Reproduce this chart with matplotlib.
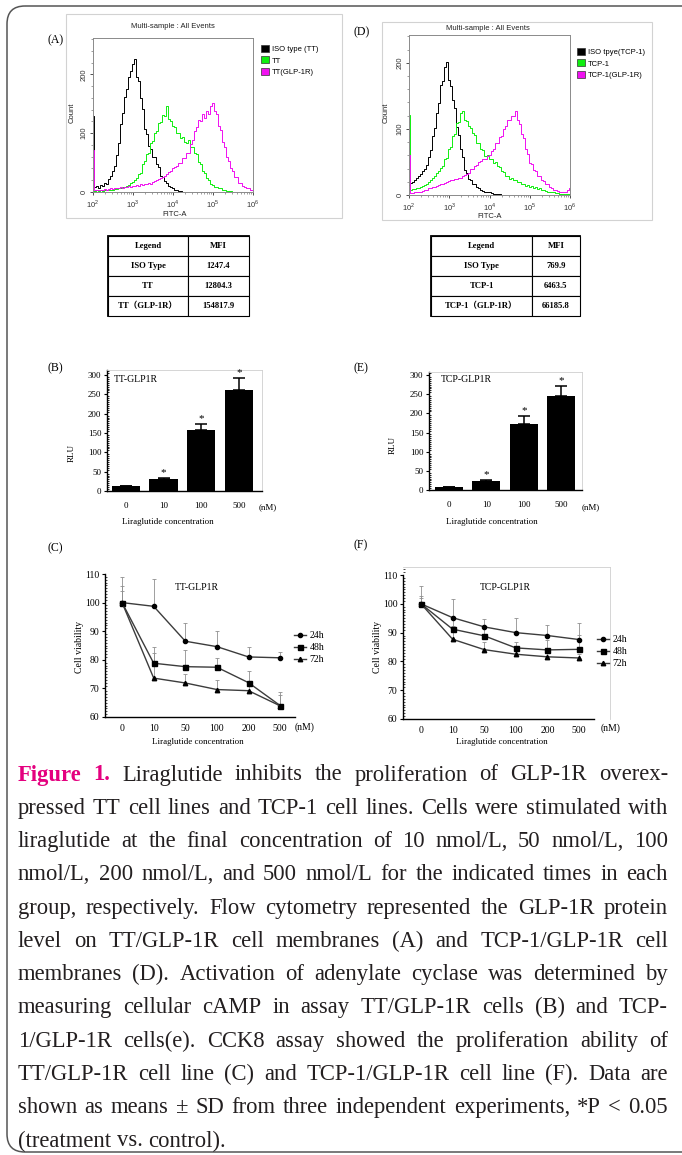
import matplotlib
matplotlib.use('Agg')
import matplotlib.pyplot as plt
from matplotlib.patches import FancyBboxPatch, Rectangle, Patch
from matplotlib.lines import Line2D
from matplotlib.ticker import MultipleLocator, LogLocator, NullFormatter
import numpy as np

W, H = 682, 1155
SERIF = 'Liberation Serif'
SANS = 'Liberation Sans'
plt.rcParams['mathtext.fontset'] = 'custom'
plt.rcParams['mathtext.rm'] = SANS

# ---------------- data ----------------
# flow cytometry histograms, counts read every 0.05 decade from 10^2 to 10^6
fitc_exp = np.linspace(2.0, 6.0, 81)

iso_tt = [130, 8, 10, 7, 12, 10, 16, 13, 22, 27, 36, 44, 63, 84, 116, 134, 162, 176, 196, 206,
          218, 226, 196, 188, 160, 142, 108, 98, 78, 74, 60, 60, 48, 42, 27, 25, 19, 15, 10, 8,
          6, 4, 3, 2, 1] + [0] * 36
tt = [2, 2, 3, 2, 3, 2, 4, 3, 4, 3, 4, 5, 5, 6, 6, 8, 9, 10, 12, 15,
      17, 21, 23, 30, 33, 47, 53, 64, 66, 83, 87, 101, 104, 118, 119, 131, 130, 146, 124, 120,
      112, 110, 101, 100, 92, 93, 85, 84, 88, 76, 76, 66, 64, 51, 47, 36, 33, 23, 21, 14,
      12, 9, 8, 7, 6, 4, 3, 2, 1, 1] + [0] * 11
tt_glp = [71, 3, 3, 4, 3, 4, 5, 4, 5, 6, 5, 6, 7, 6, 8, 7, 8, 9, 10, 9,
          11, 10, 12, 11, 13, 12, 14, 13, 15, 14, 17, 18, 20, 22, 23, 26, 28, 31, 34, 36,
          40, 43, 45, 50, 49, 57, 58, 66, 66, 82, 89, 104, 110, 122, 121, 132, 126, 138, 132, 146,
          152, 138, 133, 113, 105, 85, 77, 60, 53, 40, 36, 26, 25, 16, 15, 10, 9, 6, 7, 4, 3]

iso_tcp = [15, 18, 20, 22, 25, 28, 32, 36, 40, 46, 58, 68, 89, 101, 124, 139, 166, 172, 194, 201,
           174, 165, 144, 131, 103, 90, 69, 57, 38, 33, 24, 22, 17, 16, 12, 11, 8, 6, 5, 4,
           4, 3, 2, 2, 1, 1] + [0] * 35
tcp = [121, 8, 9, 9, 10, 11, 12, 13, 15, 17, 19, 22, 25, 28, 33, 36, 41, 44, 54, 56,
       69, 73, 89, 92, 109, 111, 124, 127, 114, 112, 104, 102, 94, 90, 79, 78, 69, 68, 59, 60,
       54, 55, 49, 50, 44, 43, 37, 35, 29, 28, 24, 25, 22, 22, 19, 20, 17, 17, 14, 15,
       12, 13, 10, 12, 9, 10, 8, 7, 6, 5, 5, 4, 4, 3, 3, 2, 2, 1, 1, 1, 1]
tcp_glp = [61, 3, 3, 4, 4, 5, 5, 6, 7, 8, 10, 11, 12, 12, 13, 15, 16, 17, 18, 20,
           21, 22, 23, 24, 24, 25, 25, 28, 30, 32, 34, 39, 40, 44, 45, 50, 51, 55, 55, 59,
           60, 67, 70, 78, 79, 88, 89, 100, 104, 113, 114, 120, 119, 127, 114, 108, 93, 86, 69, 62,
           49, 47, 38, 37, 28, 28, 22, 21, 17, 16, 12, 11, 8, 7, 6, 5, 5, 4, 5, 7, 10]

flow_labels_a = ['ISO type (TT)', 'TT', 'TT(GLP-1R)']
flow_labels_d = ['ISO tpye(TCP-1)', 'TCP-1', 'TCP-1(GLP-1R)']

mfi_labels_a = ['ISO Type', 'TT', 'TT（GLP-1R）']
mfi_values_a = ['1247.4', '12804.3', '154817.9']
mfi_labels_d = ['ISO Type', 'TCP-1', 'TCP-1（GLP-1R）']
mfi_values_d = ['769.9', '6463.5', '66185.8']

# cAMP (RLU)
camp_conc = ['0', '10', '100', '500']
camp_tt = [12, 30, 157, 262]
camp_tt_err = [1, 3, 16, 30]
camp_tcp = [7, 24, 173, 246]
camp_tcp_err = [1, 3, 20, 26]
camp_sig = [False, True, True, True]

# CCK8 cell viability
via_conc = ['0', '10', '50', '100', '200', '500']
via_times = ['24h', '48h', '72h']
via_tt_24 = [100, 98.7, 86.5, 84.6, 81.0, 80.7]
via_tt_48 = [100, 78.8, 77.6, 77.4, 72.0, 64.0]
via_tt_72 = [100, 73.6, 71.9, 69.6, 69.2, 63.9]
via_tt_24_err = [8.8, 9.4, 6.3, 5.3, 3.6, 1.9]
via_tt_48_err = [5.7, 5.8, 5.8, 3.1, 4.0, 4.8]
via_tt_72_err = [4.0, 8.9, 3.3, 3.3, 2.2, 3.9]
via_tcp_24 = [100, 95.2, 92.0, 90.0, 89.0, 87.6]
via_tcp_48 = [100, 91.2, 88.9, 84.7, 84.0, 84.2]
via_tcp_72 = [100, 87.7, 84.1, 82.5, 81.6, 81.2]
via_tcp_24_err = [6.2, 6.4, 2.9, 5.0, 3.7, 5.8]
via_tcp_48_err = [2.7, 3.5, 3.0, 2.2, 3.5, 5.0]
via_tcp_72_err = [2.0, 4.5, 2.8, 1.5, 1.2, 1.5]

caption_lines = [
    'Figure 1. Liraglutide inhibits the proliferation of GLP-1R overex-',
    'pressed TT cell lines and TCP-1 cell lines. Cells were stimulated with',
    'liraglutide at the final concentration of 10 nmol/L, 50 nmol/L, 100',
    'nmol/L, 200 nmol/L, and 500 nmol/L for the indicated times in each',
    'group, respectively. Flow cytometry represented the GLP-1R protein',
    'level on TT/GLP-1R cell membranes (A) and TCP-1/GLP-1R cell',
    'membranes (D). Activation of adenylate cyclase was determined by',
    'measuring cellular cAMP in assay TT/GLP-1R cells (B) and TCP-',
    '1/GLP-1R cells(e). CCK8 assay showed the proliferation ability of',
    'TT/GLP-1R cell line (C) and TCP-1/GLP-1R cell line (F). Data are',
    'shown as means ± SD from three independent experiments, *P < 0.05',
    '(treatment vs. control).',
]

# ---------------- figure ----------------
fig = plt.figure(figsize=(W / 100, H / 100), dpi=100)
bg = fig.add_axes([0, 0, 1, 1], zorder=-5)
bg.set_xlim(0, W)
bg.set_ylim(H, 0)
bg.axis('off')

# rounded outer frame (right side runs off the page)
bg.add_patch(FancyBboxPatch((7, 6), 720, 1146, boxstyle='round,pad=0,rounding_size=18',
                            fill=False, ec='#555555', lw=1.1))


def px_axes(l, t, r, b):
    ax = fig.add_axes([l / W, 1 - b / H, (r - l) / W, (b - t) / H])
    ax.patch.set_alpha(0)
    return ax


def label(x, y, s, **kw):
    kw.setdefault('family', SERIF)
    kw.setdefault('fontsize', 8.5)
    kw.setdefault('va', 'center')
    bg.text(x, y, s, **kw)


flow_colors = ['black', '#10EE10', '#F010F0']


def flow_panel(box, frame, ymax, curves, names, leg_xy, title_xy, xl_xy, yl_xy):
    bg.add_patch(Rectangle(frame[:2], frame[2] - frame[0], frame[3] - frame[1],
                           fill=False, ec='#d2d2d2', lw=0.8))
    ax = px_axes(*box)
    x = 10 ** fitc_exp
    for y, c in zip(curves, flow_colors):
        ax.plot(x, y, color=c, lw=0.7, drawstyle='steps-mid')
    ax.set_xscale('log')
    ax.set_xlim(1e2, 1e6)
    ax.set_ylim(0, ymax)
    ax.set_xticks([1e2, 1e3, 1e4, 1e5, 1e6])
    ax.set_xticklabels([r'$10^{%d}$' % k for k in range(2, 7)])
    ax.xaxis.set_minor_locator(LogLocator(subs=np.arange(2, 10)))
    ax.xaxis.set_minor_formatter(NullFormatter())
    ax.set_yticks([0, 100, 200])
    ax.yaxis.set_minor_locator(MultipleLocator(20))
    for lab in ax.get_yticklabels():
        lab.set_rotation(90)
        lab.set_va('center')
    ax.tick_params(labelsize=5.5, colors='#333333', width=0.6, length=2.5, pad=1.5)
    ax.tick_params(which='minor', length=1.3, width=0.5, colors='#777777')
    for lab in ax.get_xticklabels() + ax.get_yticklabels():
        lab.set_family(SANS)
    for s in ax.spines.values():
        s.set_color('#8a8a8a')
        s.set_linewidth(0.7)
    label(*title_xy, 'Multi-sample : All Events', family=SANS, fontsize=5.5, ha='center', color='#222222')
    label(*xl_xy, 'FITC-A', family=SANS, fontsize=5.5, ha='center', color='#222222')
    label(*yl_xy, 'Count', family=SANS, fontsize=5.5, ha='center', rotation=90, color='#222222')
    handles = [Patch(fc=c, ec='#333333', lw=0.5) for c in flow_colors]
    ax.legend(handles, names, loc='upper left', bbox_to_anchor=leg_xy, bbox_transform=bg.transData,
              frameon=False, prop={'family': SANS, 'size': 5.5},
              handlelength=1.1, handleheight=1.0, handletextpad=0.3, labelspacing=0.45,
              borderpad=0, borderaxespad=0)


flow_panel((93, 38, 253, 192), (66, 14, 342, 218), 262, [iso_tt, tt, tt_glp], flow_labels_a,
           (261, 45), (173, 26), (175, 214), (72, 113))
flow_panel((409, 35, 570, 195), (382, 22, 652, 220), 242, [iso_tcp, tcp, tcp_glp], flow_labels_d,
           (577, 48), (488, 28), (490, 217), (386, 113))
label(48, 40, '(A)')
label(353, 32, '(D)')


def mfi_table(box, names, values, col_w):
    ax = px_axes(*box)
    ax.axis('off')
    cells = [['Legend', 'MFI']] + [[n, v] for n, v in zip(names, values)]
    tb = ax.table(cellText=cells, cellLoc='center', bbox=[0, 0, 1, 1], colWidths=col_w)
    tb.auto_set_font_size(False)
    for cell in tb.get_celld().values():
        cell.set_linewidth(0.8)
        cell.set_edgecolor('black')
        txt = cell.get_text()
        txt.set_fontsize(6.2)
        txt.set_fontweight('bold')
        txt.set_family([SERIF, 'Noto Sans CJK SC'])
    l, t, r, b = box
    bg.add_patch(Rectangle((l, t), r - l, b - t, fill=False, ec='black', lw=1.3))


mfi_table((108, 236, 249, 316), mfi_labels_a, mfi_values_a, [80, 61])
mfi_table((431, 236, 580, 316), mfi_labels_d, mfi_values_d, [101, 48])


def camp_panel(box, xlim, ytop, vals, errs, name, name_xy, nm_xy, xl_xy, yl_xy):
    ax = px_axes(*box)
    pos = np.arange(len(camp_conc))
    ax.bar(pos, vals, width=0.75, color='black',
           yerr=[np.zeros(len(vals)), errs],
           error_kw=dict(ecolor='black', elinewidth=1.1, capsize=4.5, capthick=1.1))
    for p, v, e, s in zip(pos, vals, errs, camp_sig):
        if s:
            ax.text(p, v + e + 14, '*', ha='center', va='center', fontsize=8, family=SERIF)
    ax.set_xlim(*xlim)
    ax.set_ylim(0, ytop)
    ax.set_xticks(pos)
    ax.set_xticklabels(camp_conc)
    ax.set_yticks(np.arange(0, 301, 50))
    ax.yaxis.set_minor_locator(MultipleLocator(5))
    ax.tick_params(axis='x', length=0, pad=8)
    ax.tick_params(axis='y', length=2, width=0.8, pad=2)
    ax.tick_params(axis='y', which='minor', direction='in', length=1.5, width=0.6)
    for lab in ax.get_xticklabels() + ax.get_yticklabels():
        lab.set_family(SERIF)
        lab.set_fontsize(6.5)
    for k in ['left', 'bottom']:
        ax.spines[k].set_linewidth(1.0)
    for k in ['top', 'right']:
        ax.spines[k].set_color('#cfcfcf')
        ax.spines[k].set_linewidth(0.6)
    label(*name_xy, name, fontsize=7, ha='left')
    label(*nm_xy, '(nM)', fontsize=6.5, ha='center')
    label(*xl_xy, 'Liraglutide concentration', fontsize=6.5, ha='center')
    label(*yl_xy, 'RLU', fontsize=6.5, ha='center', rotation=90)


camp_panel((107, 370, 262, 491), (-0.50, 3.61), 313, camp_tt, camp_tt_err, 'TT-GLP1R',
           (114, 380), (268, 507), (168, 522), (72, 453))
camp_panel((429, 372, 582, 490), (-0.53, 3.55), 308, camp_tcp, camp_tcp_err, 'TCP-GLP1R',
           (441, 379), (591, 507), (492, 522), (393, 445))
label(48, 368, '(B)')
label(353, 368, '(E)')

via_markers = ['o', 's', '^']
via_sizes = [3, 3.6, 3.2]


def via_panel(box, xlim, ylim, series, errs, name, name_xy, nm_xy, xl_xy, yl_xy, leg_xy, frame):
    ax = px_axes(*box)
    pos = np.arange(len(via_conc))
    for v, e in zip(series, errs):
        ax.errorbar(pos, v, yerr=[np.zeros(len(v)), e], fmt='none', ecolor='#8f8f8f',
                    elinewidth=0.6, capsize=1.5, capthick=0.6, zorder=2)
    handles = []
    for v, m, ms in zip(series, via_markers, via_sizes):
        ax.plot(pos, v, color='#3c3c3c', lw=1.0, marker=m, ms=ms, mfc='black', mec='black', zorder=3)
        handles.append(Line2D([], [], color='#3c3c3c', lw=1.0, marker=m, ms=ms, mfc='black', mec='black'))
    ax.set_xlim(*xlim)
    ax.set_ylim(*ylim)
    ax.set_xticks(pos)
    ax.set_xticklabels(via_conc)
    ax.set_yticks(np.arange(60, 111, 10))
    ax.yaxis.set_minor_locator(MultipleLocator(1))
    ax.tick_params(axis='x', length=0, pad=5)
    ax.tick_params(axis='y', length=2, width=0.8, pad=2)
    ax.tick_params(axis='y', which='minor', direction='in', length=1.3, width=0.5)
    for lab in ax.get_xticklabels() + ax.get_yticklabels():
        lab.set_family(SERIF)
        lab.set_fontsize(7)
    ax.spines['left'].set_bounds(60, 110)
    ax.spines['left'].set_linewidth(1.0)
    ax.spines['bottom'].set_linewidth(1.0)
    ax.spines['bottom'].set_bounds(xlim[0], 5.47)
    for k in ['top', 'right']:
        if frame:
            ax.spines[k].set_color('#cfcfcf')
            ax.spines[k].set_linewidth(0.6)
        else:
            ax.spines[k].set_visible(False)
    ax.legend(handles, via_times, loc='upper left', bbox_to_anchor=leg_xy, bbox_transform=bg.transData,
              frameon=False, prop={'family': SERIF, 'size': 7}, handlelength=1.2,
              handletextpad=0.4, labelspacing=0.32, borderpad=0, borderaxespad=0)
    label(*name_xy, name, fontsize=7, ha='center')
    label(*nm_xy, '(nM)', fontsize=7, ha='center')
    label(*xl_xy, 'Liraglutide concentration', fontsize=6.5, ha='center')
    label(*yl_xy, 'Cell viability', fontsize=7, ha='center', rotation=90)


via_panel((105, 574, 295, 717), (-0.54, 5.47), (60, 110),
          [via_tt_24, via_tt_48, via_tt_72], [via_tt_24_err, via_tt_48_err, via_tt_72_err],
          'TT-GLP1R', (197, 587), (305, 727), (198, 742), (79, 647), (294, 631), False)
via_panel((403, 567, 610, 719), (-0.57, 5.98), (60, 112.8),
          [via_tcp_24, via_tcp_48, via_tcp_72], [via_tcp_24_err, via_tcp_48_err, via_tcp_72_err],
          'TCP-GLP1R', (505, 587), (611, 728), (502, 742), (378, 647), (597, 635), True)
label(47, 548, '(C)')
label(353, 545, '(F)')

# ---------------- caption (justified) ----------------
renderer = fig.canvas.get_renderer()
PINK = '#E4007F'
INK = '#231F20'
X0, X1 = 18, 668


def text_width(s, fs, weight='normal'):
    t = bg.text(0, 0, s, fontsize=fs, family=SERIF, fontweight=weight)
    w = t.get_window_extent(renderer).width
    t.remove()
    return w


# size the font so the fullest line fits with slightly tightened spaces
sp10 = text_width('a a', 10) - text_width('aa', 10)
tight = []
for line in caption_lines[1:-1]:
    words = line.split(' ')
    tight.append(sum(text_width(wd, 10) for wd in words) + 0.55 * sp10 * (len(words) - 1))
cap_fs = min(16.3, 10 * (X1 - X0) / max(tight))
space_w = text_width('a a', cap_fs) - text_width('aa', cap_fs)

for i, line in enumerate(caption_lines):
    y = 775 + 33.27 * i
    words = line.split(' ')
    styles = []
    for j, wd in enumerate(words):
        if i == 0 and j < 2:
            styles.append(dict(fontweight='bold', color=PINK))
        else:
            styles.append(dict(fontweight='normal', color=INK))
    widths = [text_width(wd, cap_fs, st['fontweight']) for wd, st in zip(words, styles)]
    if i == len(caption_lines) - 1:
        gap = space_w
    else:
        gap = (X1 - X0 - sum(widths)) / (len(words) - 1)
    x = X0
    for wd, st, wdt in zip(words, styles, widths):
        bg.text(x, y, wd, fontsize=cap_fs, family=SERIF, va='center', ha='left', **st)
        x += wdt + gap

fig.savefig('out.png', dpi=100)
